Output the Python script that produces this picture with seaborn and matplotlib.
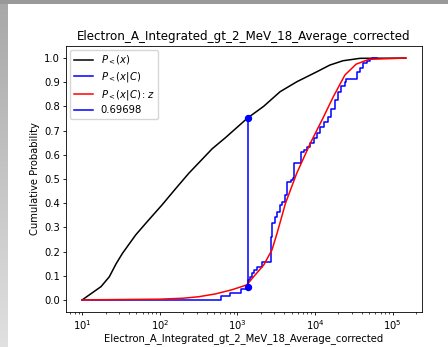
import numpy as np
import matplotlib
matplotlib.use("Agg")
import matplotlib.pyplot as plt
import seaborn as sns

# ---- data ----
black_x = [10, 17.5, 22.4, 27.3, 33.1, 49, 69, 107, 160, 237, 355, 473, 708, 1350,
           2170, 3550, 5820, 10500, 15500, 22900, 38000, 148000]
black_y = [0, 0.055, 0.096, 0.149, 0.193, 0.269, 0.324, 0.393, 0.46, 0.524, 0.583,
           0.625, 0.672, 0.752, 0.80, 0.861, 0.902, 0.943, 0.971, 0.989, 0.999, 1.0]

red_x = [10, 100, 200, 316, 525, 851, 1320, 1620, 2190, 2790, 3240, 4170, 5820,
         8710, 12900, 17200, 24300, 33900, 50100, 148000]
red_y = [0, 0.003, 0.007, 0.013, 0.025, 0.042, 0.062, 0.096, 0.145, 0.207, 0.275,
         0.40, 0.524, 0.648, 0.757, 0.84, 0.93, 0.975, 0.995, 1.0]

blue_x = [10, 620, 800, 1100, 1350, 1450, 1550, 1620, 1800, 2090, 2690,
          2750, 2820, 3090, 3240, 3550, 3720, 4070, 4370, 4900, 5130, 5370,
          6610, 7240, 7940, 8710, 9770, 10700, 11700, 12900, 14800, 16200,
          18200, 20000, 21900, 24000, 25100, 34700, 38000, 41700, 46800,
          51300, 53700, 63100]
blue_y = [0, 0.015, 0.03, 0.044, 0.083, 0.096, 0.11, 0.124, 0.138, 0.158,
          0.22, 0.26, 0.317, 0.344, 0.365, 0.393, 0.406, 0.434, 0.489, 0.496,
          0.503, 0.565, 0.613, 0.62, 0.634, 0.648, 0.668, 0.689, 0.714, 0.737,
          0.757, 0.79, 0.826, 0.86, 0.884, 0.902, 0.912, 0.943, 0.957, 0.978,
          0.989, 0.995, 1.0, 1.0]

split_x = [1350, 1350]
split_y = [0.054, 0.752]
split_label = "0.69698"

title = "Electron_A_Integrated_gt_2_MeV_18_Average_corrected"
xlabel = "Electron_A_Integrated_gt_2_MeV_18_Average_corrected"
ylabel = "Cumulative Probability"
labels = [r"$P_<(x)$", r"$P_<(x|C)$", r"$P_<(x|C):z$"]

# ---- plot ----
fs = 7.2
plt.rcParams.update({"font.size": fs, "font.family": ["DejaVu Sans"]})
fig = plt.figure(figsize=(4.48, 3.47), dpi=100)
ax = fig.add_axes([66 / 448, 1 - 312 / 347, 356 / 448, 266 / 347])

lw = 1.1
sns.lineplot(x=black_x, y=black_y, ax=ax, color="black", lw=lw, label=labels[0],
             estimator=None, sort=False)
sns.lineplot(x=blue_x, y=blue_y, ax=ax, color="blue", lw=lw, label=labels[1],
             estimator=None, sort=False, drawstyle="steps-post")
sns.lineplot(x=red_x, y=red_y, ax=ax, color="red", lw=lw, label=labels[2],
             estimator=None, sort=False)
ax.plot(split_x, split_y, color="blue", lw=lw, label=split_label)
ax.plot(split_x, split_y, "o", color="blue", ms=4.3, lw=0)

ax.set_xscale("log")
ax.set_ylim(-0.05, 1.05)
ax.set_yticks(np.arange(0, 1.01, 0.1))
ax.set_yticklabels([f"{v:.1f}" for v in np.arange(0, 1.01, 0.1)])
ax.margins(x=0.05)
ax.set_title(title, fontsize=8.6, pad=4)
ax.set_xlabel(xlabel, fontsize=fs, labelpad=1)
ax.set_ylabel(ylabel, fontsize=fs, labelpad=3)
ax.tick_params(labelsize=fs, length=2.5, width=0.6, pad=2)
ax.tick_params(which="minor", length=1.5, width=0.5)
for s in ax.spines.values():
    s.set_linewidth(0.6)
    s.set_color("black")
ax.legend(loc="upper left", fontsize=fs, handlelength=1.9, borderpad=0.4,
          labelspacing=0.35, framealpha=0.8, edgecolor="#cccccc", fancybox=True,
          borderaxespad=0.35)

# screenshot border decoration
H = 347
left = np.linspace(0.66, 0.88, H - 4)[:, None, None] * np.ones((1, 8, 3))
fig.figimage(left, xo=0, yo=0, origin="upper", zorder=10)
top = np.full((4, 448, 3), 0.6)
fig.figimage(top, xo=0, yo=H - 4, origin="upper", zorder=10)

fig.savefig("out.png", dpi=100)
